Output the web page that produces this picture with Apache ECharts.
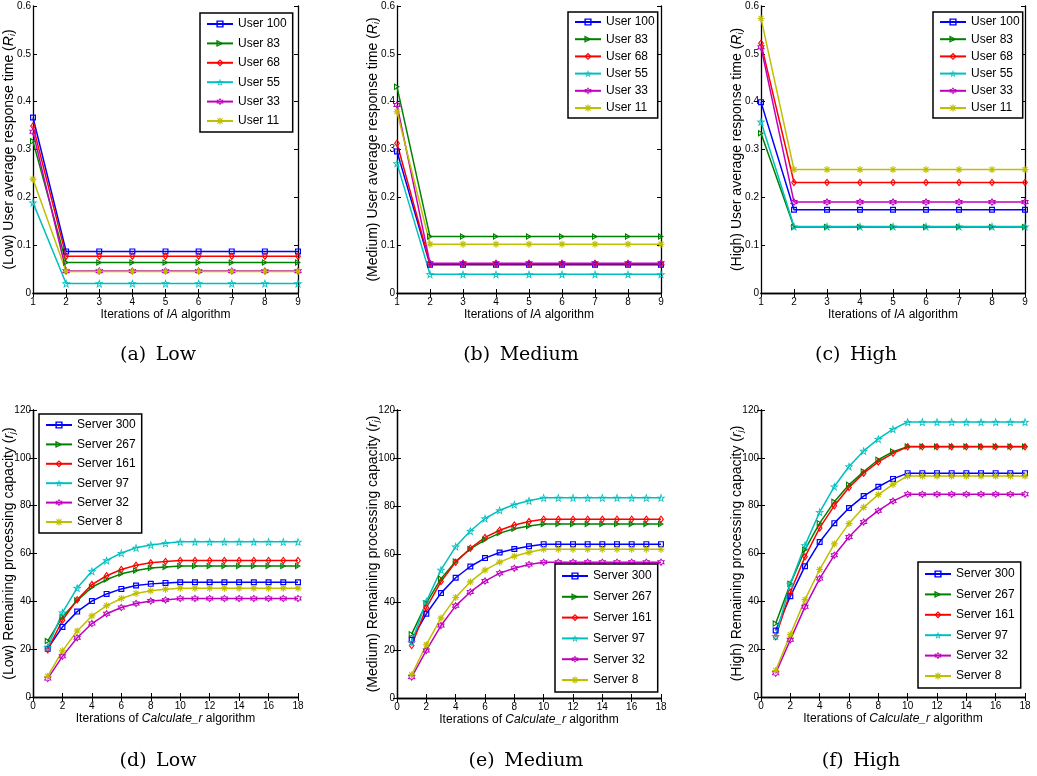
<!DOCTYPE html>
<html>
<head>
<meta charset="utf-8">
<script src="https://cdn.jsdelivr.net/npm/echarts@6/dist/echarts.min.js"></script>
<style>
html,body{margin:0;padding:0;background:#fff;}
#chart{width:1037px;height:776px;}
</style>
</head>
<body>
<div id="chart"></div>
<script>
// ---------- data ----------
const iaIterations = [1, 2, 3, 4, 5, 6, 7, 8, 9];
const calcIterations = [1, 2, 3, 4, 5, 6, 7, 8, 9, 10, 11, 12, 13, 14, 15, 16, 17, 18];
const userNames = ['User 100', 'User 83', 'User 68', 'User 55', 'User 33', 'User 11'];
const serverNames = ['Server 300', 'Server 267', 'Server 161', 'Server 97', 'Server 32', 'Server 8'];

// user average response time, one row per user (same order as userNames)
const lowResponse = [
  [0.367, 0.087, 0.087, 0.087, 0.087, 0.087, 0.087, 0.087, 0.087],
  [0.317, 0.064, 0.064, 0.064, 0.064, 0.064, 0.064, 0.064, 0.064],
  [0.349, 0.077, 0.077, 0.077, 0.077, 0.077, 0.077, 0.077, 0.077],
  [0.189, 0.020, 0.020, 0.020, 0.020, 0.020, 0.020, 0.020, 0.020],
  [0.337, 0.046, 0.046, 0.046, 0.046, 0.046, 0.046, 0.046, 0.046],
  [0.238, 0.045, 0.045, 0.045, 0.045, 0.045, 0.045, 0.045, 0.045]
];
const mediumResponse = [
  [0.296, 0.059, 0.059, 0.059, 0.059, 0.059, 0.059, 0.059, 0.059],
  [0.431, 0.118, 0.118, 0.118, 0.118, 0.118, 0.118, 0.118, 0.118],
  [0.313, 0.061, 0.061, 0.061, 0.061, 0.061, 0.061, 0.061, 0.061],
  [0.271, 0.039, 0.039, 0.039, 0.039, 0.039, 0.039, 0.039, 0.039],
  [0.393, 0.062, 0.062, 0.062, 0.062, 0.062, 0.062, 0.062, 0.062],
  [0.379, 0.102, 0.102, 0.102, 0.102, 0.102, 0.102, 0.102, 0.102]
];
const highResponse = [
  [0.399, 0.174, 0.174, 0.174, 0.174, 0.174, 0.174, 0.174, 0.174],
  [0.334, 0.138, 0.138, 0.138, 0.138, 0.138, 0.138, 0.138, 0.138],
  [0.522, 0.231, 0.231, 0.231, 0.231, 0.231, 0.231, 0.231, 0.231],
  [0.358, 0.139, 0.139, 0.139, 0.139, 0.139, 0.139, 0.139, 0.139],
  [0.514, 0.190, 0.190, 0.190, 0.190, 0.190, 0.190, 0.190, 0.190],
  [0.574, 0.258, 0.258, 0.258, 0.258, 0.258, 0.258, 0.258, 0.258]
];

// remaining processing capacity, one row per server (same order as serverNames)
const lowCapacity = [
  [20.2, 29.3, 35.7, 40.1, 43.1, 45.2, 46.6, 47.3, 47.7, 48.0, 48.0, 48.0, 48.0, 48.0, 48.0, 48.0, 48.0, 48.0],
  [23.4, 33.5, 40.3, 45.9, 49.1, 51.5, 52.9, 53.9, 54.4, 54.8, 54.8, 54.8, 54.8, 54.8, 54.8, 54.8, 54.8, 54.8],
  [19.8, 32.1, 40.7, 47.0, 50.7, 53.3, 55.1, 56.1, 56.7, 57.1, 57.1, 57.1, 57.1, 57.1, 57.1, 57.1, 57.1, 57.1],
  [20.9, 35.3, 45.6, 52.6, 57.1, 60.2, 62.4, 63.6, 64.3, 64.9, 64.9, 64.9, 64.9, 64.9, 64.9, 64.9, 64.9, 64.9],
  [7.7, 17.0, 24.8, 30.7, 34.8, 37.4, 39.1, 40.1, 40.6, 41.2, 41.2, 41.2, 41.2, 41.2, 41.2, 41.2, 41.2, 41.2],
  [8.7, 19.3, 27.6, 33.9, 38.2, 41.2, 43.3, 44.4, 45.1, 45.5, 45.5, 45.5, 45.5, 45.5, 45.5, 45.5, 45.5, 45.5]
];
const mediumCapacity = [
  [24.3, 35.1, 43.7, 50.1, 54.8, 58.3, 60.6, 62.1, 63.2, 64.1, 64.1, 64.1, 64.1, 64.1, 64.1, 64.1, 64.1, 64.1],
  [26.6, 39.5, 49.7, 56.9, 62.1, 65.9, 68.7, 70.5, 71.7, 72.5, 72.5, 72.5, 72.5, 72.5, 72.5, 72.5, 72.5, 72.5],
  [21.9, 37.6, 48.5, 56.6, 62.4, 66.9, 69.9, 72.1, 73.5, 74.5, 74.5, 74.5, 74.5, 74.5, 74.5, 74.5, 74.5, 74.5],
  [23.3, 40.2, 53.4, 63.1, 69.6, 74.8, 78.2, 80.6, 82.2, 83.4, 83.4, 83.4, 83.4, 83.4, 83.4, 83.4, 83.4, 83.4],
  [8.7, 19.8, 30.2, 38.4, 44.2, 48.7, 52.0, 54.1, 55.6, 56.6, 56.6, 56.6, 56.6, 56.6, 56.6, 56.6, 56.6, 56.6],
  [9.7, 22.2, 33.3, 41.9, 48.4, 53.3, 56.6, 59.1, 60.7, 62.0, 62.0, 62.0, 62.0, 62.0, 62.0, 62.0, 62.0, 62.0]
];
const highCapacity = [
  [27.8, 42.1, 54.7, 64.8, 72.7, 79.0, 84.0, 87.9, 91.2, 93.6, 93.6, 93.6, 93.6, 93.6, 93.6, 93.6, 93.6, 93.6],
  [30.7, 47.3, 61.6, 72.7, 81.6, 88.7, 94.3, 99.2, 102.6, 104.7, 104.7, 104.7, 104.7, 104.7, 104.7, 104.7, 104.7, 104.7],
  [25.2, 43.8, 58.6, 70.7, 80.0, 87.6, 93.6, 98.3, 101.9, 104.6, 104.6, 104.6, 104.6, 104.6, 104.6, 104.6, 104.6, 104.6],
  [25.5, 47.3, 63.4, 77.3, 88.0, 96.4, 102.9, 107.9, 112.0, 115.0, 115.0, 115.0, 115.0, 115.0, 115.0, 115.0, 115.0, 115.0],
  [9.9, 23.9, 37.7, 49.5, 59.3, 66.9, 73.2, 77.9, 81.9, 84.8, 84.8, 84.8, 84.8, 84.8, 84.8, 84.8, 84.8, 84.8],
  [11.1, 26.1, 40.7, 53.3, 64.0, 72.5, 79.3, 84.6, 88.9, 92.4, 92.4, 92.4, 92.4, 92.4, 92.4, 92.4, 92.4, 92.4]
];

const panelCaptions = ['(a)\u2002Low', '(b)\u2002Medium', '(c)\u2002High', '(d)\u2002Low', '(e)\u2002Medium', '(f)\u2002High'];
const levelNames = ['Low', 'Medium', 'High'];

// ---------- marker shapes (hollow outlines built as rings) ----------
function ringPath(pts, cx, cy, k) {
  const f = v => v.toFixed(2);
  let d = 'M' + pts.map(p => f(p[0]) + ',' + f(p[1])).join('L') + 'Z';
  const inner = pts.slice().reverse().map(p => [cx + (p[0] - cx) * k, cy + (p[1] - cy) * k]);
  d += 'M' + inner.map(p => f(p[0]) + ',' + f(p[1])).join('L') + 'Z';
  return 'path://' + d;
}
function starPts(n, rOut, rIn, rot) {
  const pts = [];
  for (let i = 0; i < 2 * n; i++) {
    const r = i % 2 === 0 ? rOut : rIn;
    const a = rot + i * Math.PI / n;
    pts.push([50 + r * Math.cos(a), 50 + r * Math.sin(a)]);
  }
  return pts;
}
function asteriskPath() {
  let d = '';
  [0, 45, 90, 135].forEach(deg => {
    const a = deg * Math.PI / 180, c = Math.cos(a), s = Math.sin(a), L = 50, w = 8;
    const pts = [[-L, -w], [L, -w], [L, w], [-L, w]].map(p => [50 + p[0] * c - p[1] * s, 50 + p[0] * s + p[1] * c]);
    d += 'M' + pts.map(p => p[0].toFixed(2) + ',' + p[1].toFixed(2)).join('L') + 'Z';
  });
  return 'path://' + d;
}
const SYMBOLS = [
  ringPath([[0, 0], [100, 0], [100, 100], [0, 100]], 50, 50, 0.6),
  ringPath([[0, 0], [100, 50], [0, 100]], 33.3, 50, 0.45),
  ringPath([[50, 0], [100, 50], [50, 100], [0, 50]], 50, 50, 0.55),
  ringPath(starPts(5, 50, 20, -Math.PI / 2), 50, 50, 0.5),
  ringPath(starPts(6, 50, 29, -Math.PI / 2), 50, 50, 0.55),
  asteriskPath()
];
const SYM_SIZES = [[6, 6], [6, 7], [6, 8], [9, 9], [8, 8], [7, 7]];
const COLORS = ['#0000ff', '#008000', '#ff0000', '#00bfbf', '#bf00bf', '#bfbf00'];
const SANS = '"Liberation Sans", Arial, Helvetica, sans-serif';

const grids = [
  {left: 33, top: 6, width: 265, height: 287},
  {left: 397, top: 6, width: 264, height: 287},
  {left: 761, top: 6, width: 264, height: 287},
  {left: 33, top: 410, width: 265, height: 287},
  {left: 397, top: 410, width: 264, height: 288},
  {left: 761, top: 410, width: 264, height: 287}
].map(g => Object.assign({outerBoundsMode: 'none', containLabel: false}, g));
const captionPos = [[158, 355], [521, 355], [856, 355], [158, 761], [526, 761], [861, 761]];
const legendCfg = [
  {left: 200, top: 13, itemGap: 7.4, padding: [5, 6, 5, 6]},
  {left: 568, top: 12, itemGap: 5.2, padding: [4, 3, 4, 6]},
  {left: 933, top: 12, itemGap: 5.2, padding: [4, 3, 4, 6]},
  {left: 39, top: 414, itemGap: 7.4, padding: [5, 6, 5, 6]},
  {left: 555, top: 564, itemGap: 8.8, padding: [6, 6, 6, 6]},
  {left: 918, top: 562, itemGap: 8.4, padding: [6, 6, 6, 6]}
];

const Y_NAME_SIZE = 14;
const TICK_SIZE = 10;
const yNameRich = {
  it: {fontStyle: 'italic', fontFamily: SANS, fontSize: Y_NAME_SIZE, color: '#000'},
  sub: {fontStyle: 'italic', fontFamily: SANS, fontSize: 9, color: '#000', verticalAlign: 'bottom', padding: [6, 0, 0, 0]}
};
const xNameRich = {
  it: {fontStyle: 'italic', fontFamily: SANS, fontSize: 12, color: '#000'}
};

const xAxes = [], yAxes = [], series = [], legends = [], graphics = [];

for (let p = 0; p < 6; p++) {
  const top = p < 3;
  const lvl = levelNames[p % 3];
  const xCfg = top ? {min: 1, max: 9, interval: 1} : {min: 0, max: 18, interval: 2};
  const yCfg = top ? {min: 0, max: 0.6, interval: 0.1} : {min: 0, max: 120, interval: 20};
  const common = {
    type: 'value', gridIndex: p,
    axisLine: {show: true, lineStyle: {color: '#000', width: 1.3}},
    axisTick: {show: true, inside: true, length: 4, lineStyle: {color: '#000', width: 1}},
    splitLine: {show: false}
  };
  xAxes.push(Object.assign({}, common, xCfg, {
    position: 'bottom',
    axisLabel: {show: true, margin: 4, fontSize: TICK_SIZE, color: '#000', fontFamily: SANS},
    name: top ? 'Iterations of {it|IA} algorithm' : 'Iterations of {it|Calculate_r} algorithm',
    nameLocation: 'middle', nameGap: 16, nameMoveOverlap: false,
    nameTextStyle: {fontSize: 12, color: '#000', fontFamily: SANS, rich: xNameRich}
  }));
  xAxes.push(Object.assign({}, common, xCfg, {position: 'top', axisLabel: {show: false}}));
  yAxes.push(Object.assign({}, common, yCfg, {
    position: 'left',
    axisLabel: {show: true, margin: 2, fontSize: TICK_SIZE, color: '#000', fontFamily: SANS},
    name: top ? '(' + lvl + ') User average response time ({it|R}{sub|i})'
              : '(' + lvl + ') Remaining processing capacity ({it|r}{sub|j})',
    nameLocation: 'middle', nameGap: 16, nameMoveOverlap: false,
    nameTextStyle: {fontSize: Y_NAME_SIZE, color: '#000', fontFamily: SANS, rich: yNameRich}
  }));
  yAxes.push(Object.assign({}, common, yCfg, {position: 'right', axisLabel: {show: false}}));

  const names = top ? userNames : serverNames;
  const xs = top ? iaIterations : calcIterations;
  const table = [lowResponse, mediumResponse, highResponse, lowCapacity, mediumCapacity, highCapacity][p];
  for (let s = 0; s < 6; s++) {
    series.push({
      type: 'line',
      name: names[s],
      xAxisIndex: 2 * p, yAxisIndex: 2 * p,
      data: xs.map((x, k) => [x, table[s][k]]),
      color: COLORS[s],
      symbol: SYMBOLS[s],
      symbolSize: SYM_SIZES[s],
      showAllSymbol: true,
      lineStyle: {color: COLORS[s], width: 1.5},
      itemStyle: {color: COLORS[s], borderWidth: 0},
      emphasis: {disabled: true},
      animation: false
    });
  }
  legends.push(Object.assign({
    orient: 'vertical',
    data: names,
    backgroundColor: '#fff',
    borderColor: '#000', borderWidth: 1.5, borderRadius: 0,
    itemWidth: 26, itemHeight: 9,
    textStyle: {fontSize: 12, color: '#000', fontFamily: SANS},
    selectedMode: false
  }, legendCfg[p]));

  graphics.push({
    type: 'text', x: captionPos[p][0], y: captionPos[p][1],
    style: {
      text: panelCaptions[p], textAlign: 'center', textVerticalAlign: 'middle',
      font: '19px "DejaVu Serif", "Liberation Serif", serif', fill: '#000'
    }
  });
}

const chart = echarts.init(document.getElementById('chart'), null, {renderer: 'canvas'});
chart.setOption({
  animation: false,
  backgroundColor: '#fff',
  grid: grids,
  xAxis: xAxes,
  yAxis: yAxes,
  legend: legends,
  series: series,
  graphic: graphics
});
</script>
</body>
</html>
